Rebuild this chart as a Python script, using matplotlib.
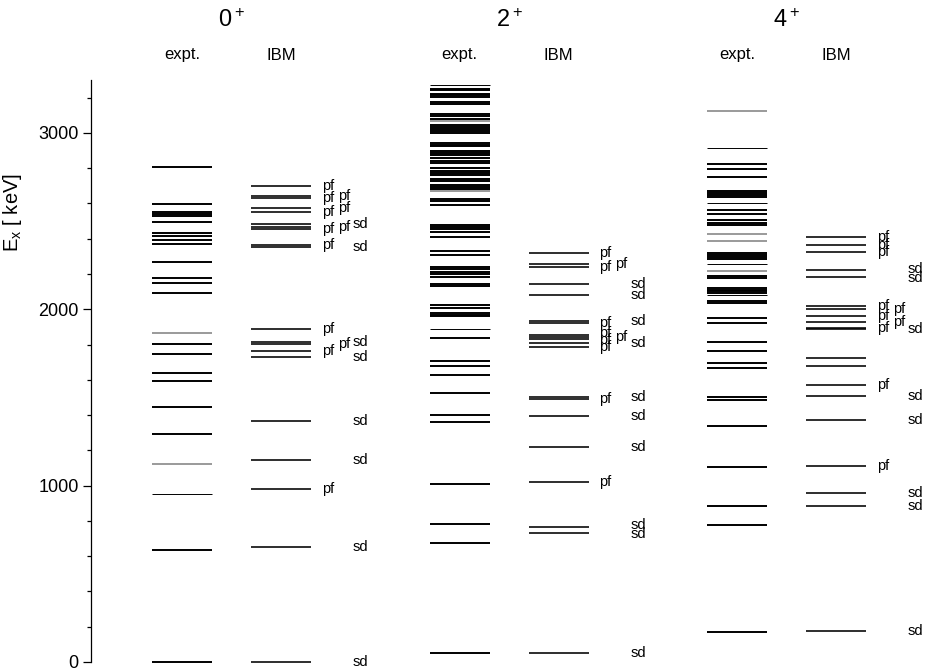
import numpy as np
import matplotlib
matplotlib.use('Agg')
import matplotlib.pyplot as plt
import matplotlib.transforms as mtransforms

plt.rcParams['font.family'] = ['Liberation Sans', 'DejaVu Sans']
plt.rcParams['mathtext.fontset'] = 'custom'
plt.rcParams['mathtext.rm'] = 'Liberation Sans'
plt.rcParams['mathtext.it'] = 'Liberation Sans:italic'

# level energies in keV
spins = ['0$^+$', '2$^+$', '4$^+$']

expt_0 = [2809, 2599, 2554, 2541, 2527, 2495, 2431, 2416, 2393, 2369, 2268, 2176, 2151,
          2093, 1868, 1802, 1745, 1641, 1592, 1446, 1295, 1125, 953, 635, 0]
expt_0_grey = [1868, 1125]
expt_0_thin = [953]

expt_2 = [3270, 3251, 3242, 3223, 3214, 3204, 3174, 3164, 3108, 3095, 3081, 3066, 3044,
          3032, 3021, 3010, 3000, 2943, 2934, 2925, 2900, 2887, 2874, 2858, 2843, 2830,
          2802, 2786, 2773, 2764, 2741, 2730, 2707, 2696, 2684, 2669, 2626, 2614, 2590,
          2480, 2469, 2457, 2439, 2412, 2331, 2308, 2242, 2227, 2213, 2199, 2185, 2144,
          2132, 2025, 2009, 1980, 1970, 1960, 1887, 1839, 1709, 1679, 1629, 1524, 1401,
          1359, 1008, 781, 677, 49]
expt_2_grey = [3066, 2669]
expt_2_thin = [3270, 1887]

expt_4 = [3125, 2915, 2826, 2793, 2748, 2672, 2661, 2647, 2636, 2601, 2562, 2542, 2507,
          2490, 2480, 2424, 2387, 2321, 2309, 2296, 2284, 2255, 2216, 2191, 2177, 2121,
          2111, 2101, 2090, 2080, 2047, 2036, 1950, 1925, 1812, 1764, 1696, 1667, 1505,
          1488, 1336, 1106, 882, 774, 170]
expt_4_grey = [3125, 2424, 2387, 2216]
expt_4_thin = [2915, 2601, 2255, 2080]

ibm_0 = [2701, 2643, 2633, 2575, 2552, 2482, 2469, 2457, 2365, 2354, 1890, 1813, 1803,
         1764, 1732, 1367, 1146, 981, 650, 0]
ibm_0_kind = ['pf', 'pf', 'pf', 'pf', 'pf', 'sd', 'pf', 'pf', 'pf', 'sd', 'pf', 'sd', 'pf',
              'pf', 'sd', 'sd', 'sd', 'pf', 'sd', 'sd']

ibm_2 = [2321, 2255, 2242, 2145, 2081, 1934, 1924, 1856, 1845, 1832, 1807, 1788, 1505,
         1492, 1395, 1221, 1019, 767, 733, 53]
ibm_2_kind = ['pf', 'pf', 'pf', 'sd', 'sd', 'sd', 'pf', 'pf', 'pf', 'pf', 'sd', 'pf', 'sd',
              'pf', 'sd', 'sd', 'pf', 'sd', 'sd', 'sd']

ibm_4 = [2412, 2367, 2325, 2222, 2183, 2019, 2000, 1962, 1930, 1896, 1889, 1723, 1677,
         1571, 1508, 1372, 1112, 958, 882, 176]
ibm_4_kind = ['pf', 'pf', 'pf', 'sd', 'sd', 'pf', 'pf', 'pf', 'pf', 'pf', 'sd', '', '',
              'pf', 'sd', 'sd', 'pf', 'sd', 'sd', 'sd']

expt_sets = [(expt_0, expt_0_grey, expt_0_thin),
             (expt_2, expt_2_grey, expt_2_thin),
             (expt_4, expt_4_grey, expt_4_thin)]
ibm_sets = [(ibm_0, ibm_0_kind), (ibm_2, ibm_2_kind), (ibm_4, ibm_4_kind)]


def spread(ys, gap):
    # push labels in one column apart so they do not sit on top of each other
    ys = list(ys)
    order = np.argsort(ys)
    for _ in range(50):
        for a, b in zip(order[:-1], order[1:]):
            d = ys[b] - ys[a]
            if d < gap:
                ys[a] -= (gap - d) / 2
                ys[b] += (gap - d) / 2
    return ys


fig = plt.figure(figsize=(9.26, 6.72), dpi=100)
ax = fig.add_axes([91 / 926, 10 / 672, 835 / 926, 582 / 672])
ax.set_xlim(0, 8.35)
ax.set_ylim(0, 3300)

col_w = 0.6
group_step = 2.775
first_left = 0.61
ibm_shift = 0.99
lab_dx = [0.11, 0.27, 0.42]

trans = mtransforms.blended_transform_factory(ax.transData, fig.transFigure)

for g in range(3):
    x0 = first_left + g * group_step
    x1 = x0 + ibm_shift

    en, grey, thin = expt_sets[g]
    colors = ['#9a9a9a' if e in grey else 'black' for e in en]
    widths = [0.7 if e in thin else 1.4 for e in en]
    ax.hlines(en, x0, x0 + col_w, colors=colors, linewidths=widths, clip_on=False)

    en_i, kind = ibm_sets[g]
    ax.hlines(en_i, x1, x1 + col_w, colors='black', linewidths=1.15, clip_on=False)

    # sort labels into columns: pf in the first (or second when crowded), sd in the third
    cols = {0: [], 1: [], 2: []}
    last = {0: -1e9, 1: -1e9}
    for e, k in sorted(zip(en_i, kind)):
        if k == 'sd':
            cols[2].append(e)
        elif k == 'pf':
            if e - last[0] >= 40:
                cols[0].append(e)
                last[0] = e
            elif e - last[1] >= 40:
                cols[1].append(e)
                last[1] = e
            else:
                cols[0].append(e)
                last[0] = e
    for c in cols:
        txt = 'sd' if c == 2 else 'pf'
        ys = spread(cols[c], 50 if c == 2 else 40)
        for y in ys:
            ax.text(x1 + col_w + lab_dx[c], y, txt, fontsize=10.5, va='center', ha='left',
                    clip_on=False)

    # headers
    ax.text(x0 + col_w / 2, 1 - 55 / 672, 'expt.', transform=trans, fontsize=12,
            ha='center', va='center')
    ax.text(x1 + col_w / 2, 1 - 55 / 672, 'IBM', transform=trans, fontsize=12,
            ha='center', va='center')
    ax.text((x0 + x1 + col_w) / 2, 1 - 21 / 672, spins[g], transform=trans, fontsize=17,
            ha='center', va='center')

for s in ['top', 'right', 'bottom']:
    ax.spines[s].set_visible(False)
ax.spines['left'].set_linewidth(0.9)
ax.set_xticks([])
ax.set_yticks([0, 1000, 2000, 3000])
ax.set_yticks(np.arange(0, 3301, 200), minor=True)
ax.tick_params(axis='y', which='major', length=6, width=0.9, labelsize=13, pad=3)
ax.tick_params(axis='y', which='minor', length=3, width=0.9)
ax.set_ylabel('E$_{\\rm x}$ [ keV]', fontsize=14.5)
ax.yaxis.set_label_coords(-0.08, 0.773)

plt.savefig('out.png', dpi=100)
